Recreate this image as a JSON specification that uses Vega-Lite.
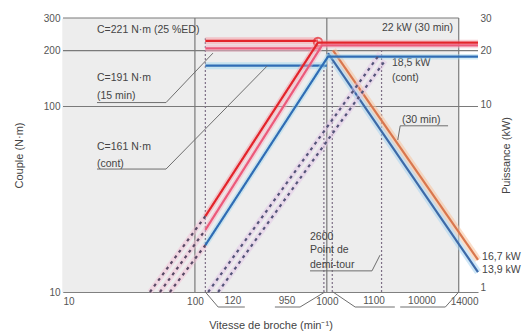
{
 "$schema": "https://vega.github.io/schema/vega-lite/v6.json",
 "width": 415, "height": 274,
 "autosize": "none",
 "padding": {"left": 63, "top": 18, "right": 54, "bottom": 41},
 "background": "#ffffff",
 "config": {
   "view": {"stroke": null},
   "font": "Liberation Sans",
   "axis": {"labelFont": "Liberation Sans", "titleFont": "Liberation Sans", "labelFontSize": 10, "titleFontSize": 11, "labelColor": "#555555", "titleColor": "#444444", "titleFontWeight": "normal", "ticks": false, "domainColor": "#808080", "domainWidth": 1.2, "grid": false}
 },
 "datasets": {
   "tq": [
     {"s": "t_red", "x": 120, "t": 226}, {"s": "t_red", "x": 857, "t": 226},
     {"s": "t_pink", "x": 120, "t": 206}, {"s": "t_pink", "x": 900, "t": 206},
     {"s": "t_blue", "x": 120, "t": 166}, {"s": "t_blue", "x": 1000, "t": 166},
     {"s": "t_org", "x": 1114, "t": 201}, {"s": "t_org", "x": 14000, "t": 14.9},
     {"s": "t_blu2", "x": 1020, "t": 194}, {"s": "t_blu2", "x": 14000, "t": 12.8}
   ],
   "pw": [
     {"s": "p_red", "x": 120, "kw": 2.45}, {"s": "p_red", "x": 857, "kw": 22}, {"s": "p_red", "x": 14000, "kw": 22},
     {"s": "p_pink", "x": 120, "kw": 2.06}, {"s": "p_pink", "x": 919, "kw": 21.2}, {"s": "p_pink", "x": 14000, "kw": 21.2},
     {"s": "p_blue", "x": 120, "kw": 1.7}, {"s": "p_blue", "x": 1020, "kw": 18.4}, {"s": "p_blue", "x": 14000, "kw": 18.4},
     {"s": "d_red", "x": 45.6, "kw": 0.94}, {"s": "d_red", "x": 120, "kw": 2.45},
     {"s": "d_mid", "x": 54.3, "kw": 0.94}, {"s": "d_mid", "x": 120, "kw": 2.06},
     {"s": "d_blue", "x": 64.6, "kw": 0.94}, {"s": "d_blue", "x": 120, "kw": 1.7},
     {"s": "d_r1", "x": 126, "kw": 0.94}, {"s": "d_r1", "x": 2530, "kw": 19.1},
     {"s": "d_r2", "x": 150, "kw": 0.94}, {"s": "d_r2", "x": 2763, "kw": 17.5}
   ],
   "ld": [
     {"s": "a", "x": 18.1, "t": 105}, {"s": "a", "x": 60.4, "t": 105}, {"s": "a", "x": 137, "t": 194},
     {"s": "b", "x": 18.1, "t": 46}, {"s": "b", "x": 60.4, "t": 46}, {"s": "b", "x": 352, "t": 165},
     {"s": "c", "x": 3450, "t": 66}, {"s": "c", "x": 3600, "t": 78.7}, {"s": "c", "x": 8300, "t": 78.7},
     {"s": "d", "x": 746, "t": 13.0}, {"s": "d", "x": 2200, "t": 13.0}, {"s": "d", "x": 2530, "t": 15.8},
     {"s": "e", "x": 120, "t": 10}, {"s": "e", "x": 150, "t": 8.3}, {"s": "e", "x": 239, "t": 8.3},
     {"s": "f", "x": 404, "t": 8.3}, {"s": "f", "x": 627, "t": 8.3}, {"s": "f", "x": 966, "t": 10},
     {"s": "g", "x": 1114, "t": 10}, {"s": "g", "x": 1640, "t": 8.3}, {"s": "g", "x": 3278, "t": 8.3},
     {"s": "h", "x": 3600, "t": 8.3}, {"s": "h", "x": 7920, "t": 8.3}, {"s": "h", "x": 10000, "t": 10}
   ],
   "notesL": [
     {"txt": "C=221 N·m (25 %ED)", "x": 18.1, "t": 258},
     {"txt": "C=191 N·m", "x": 18.1, "t": 142},
     {"txt": "(15 min)", "x": 18.1, "t": 114},
     {"txt": "C=161 N·m", "x": 18.1, "t": 60.5},
     {"txt": "(cont)", "x": 18.1, "t": 49},
     {"txt": "18,5 kW", "x": 3120, "t": 171},
     {"txt": "(cont)", "x": 3120, "t": 142},
     {"txt": "(30 min)", "x": 3716, "t": 84.5},
     {"txt": "2600", "x": 746, "t": 19.8},
     {"txt": "Point de", "x": 746, "t": 16.8},
     {"txt": "demi-tour", "x": 746, "t": 14.0},
     {"txt": "16,7 kW", "x": 15030, "t": 15.4},
     {"txt": "13,9 kW", "x": 15030, "t": 13.1}
   ],
   "notesR": [{"txt": "22 kW (30 min)", "x": 9060, "t": 265}],
   "notesC": [
     {"txt": "120", "x": 194, "t": 8.94}, {"txt": "950", "x": 499, "t": 8.94},
     {"txt": "1100", "x": 2280, "t": 8.94}, {"txt": "10000", "x": 5270, "t": 8.94}
   ]
 },
 "layer": [
  {
   "resolve": {"scale": {"color": "independent"}},
   "layer": [
     {
       "data": {"values": [{"x1": 10, "x2": 10000, "t1": 10, "t2": 300}]},
       "mark": {"type": "rect", "fill": "#ededed"},
       "encoding": {
         "x": {"field": "x1", "type": "quantitative", "scale": {"type": "log", "domain": [10, 14000]},
               "axis": {"values": [10, 100, 1000, 14000], "format": "d", "title": "Vitesse de broche (min⁻¹)", "labelPadding": 4, "titlePadding": 13}},
         "x2": {"field": "x2"},
         "y": {"field": "t1", "type": "quantitative", "scale": {"type": "log", "domain": [10, 300]},
               "axis": {"values": [10, 100, 200, 300], "format": "d", "title": "Couple (N·m)", "labelPadding": 3, "titlePadding": 19}},
         "y2": {"field": "t2"}
       }
     },
     {
       "data": {"values": [{"t": 100, "x1": 10, "x2": 14000}, {"t": 200, "x1": 10, "x2": 14000}, {"t": 300, "x1": 10, "x2": 10000}]},
       "mark": {"type": "rule", "color": "#7a7a7a", "strokeWidth": 1.2},
       "encoding": {
         "y": {"field": "t", "type": "quantitative", "scale": {"type": "log", "domain": [10, 300]}},
         "x": {"field": "x1", "type": "quantitative", "scale": {"type": "log", "domain": [10, 14000]}},
         "x2": {"field": "x2"}
       }
     },
     {
       "data": {"values": [{"x": 100}, {"x": 1000}, {"x": 10000}]},
       "mark": {"type": "rule", "color": "#7a7a7a", "strokeWidth": 1.2},
       "encoding": {
         "x": {"field": "x", "type": "quantitative", "scale": {"type": "log", "domain": [10, 14000]}}
       }
     },
     {
       "data": {"values": [{"x": 120, "t1": 10, "t2": 233}, {"x": 950, "t1": 10, "t2": 175}, {"x": 1100, "t1": 10, "t2": 175}, {"x": 2600, "t1": 10, "t2": 207}]},
       "mark": {"type": "rule", "color": "#7d6f86", "strokeWidth": 1.2, "strokeDash": [2, 2]},
       "encoding": {
         "x": {"field": "x", "type": "quantitative", "scale": {"type": "log", "domain": [10, 14000]}},
         "y": {"field": "t1", "type": "quantitative", "scale": {"type": "log", "domain": [10, 300]}},
         "y2": {"field": "t2"}
       }
     },
     {
       "data": {"name": "tq"},
       "mark": {"type": "line", "strokeWidth": 7, "opacity": 0.55},
       "encoding": {
         "x": {"field": "x", "type": "quantitative", "scale": {"type": "log", "domain": [10, 14000]}},
         "y": {"field": "t", "type": "quantitative", "scale": {"type": "log", "domain": [10, 300]}},
         "color": {"field": "s", "type": "nominal", "legend": null,
                   "scale": {"domain": ["t_red", "t_pink", "t_blue", "t_org", "t_blu2"], "range": ["#f6a3ab", "#f6b3c6", "#a6daf0", "#f7c39c", "#a8d4f0"]}}
       }
     },
     {
       "data": {"name": "tq"},
       "mark": {"type": "line", "strokeWidth": 2.2},
       "encoding": {
         "x": {"field": "x", "type": "quantitative", "scale": {"type": "log", "domain": [10, 14000]}},
         "y": {"field": "t", "type": "quantitative", "scale": {"type": "log", "domain": [10, 300]}},
         "color": {"field": "s", "type": "nominal", "legend": null,
                   "scale": {"domain": ["t_red", "t_pink", "t_blue", "t_org", "t_blu2"], "range": ["#e3242b", "#ec5a7a", "#2f6db5", "#d9774e", "#3d6aa8"]}}
       }
     },
     {
       "data": {"values": [{"x": 857, "t": 223}]},
       "mark": {"type": "point", "shape": "circle", "filled": false, "color": "#e3242b", "strokeWidth": 2, "size": 70},
       "encoding": {
         "x": {"field": "x", "type": "quantitative", "scale": {"type": "log", "domain": [10, 14000]}},
         "y": {"field": "t", "type": "quantitative", "scale": {"type": "log", "domain": [10, 300]}}
       }
     },
     {
       "data": {"name": "ld"},
       "mark": {"type": "line", "color": "#6e6e6e", "strokeWidth": 1},
       "encoding": {
         "x": {"field": "x", "type": "quantitative", "scale": {"type": "log", "domain": [10, 14000]}},
         "y": {"field": "t", "type": "quantitative", "scale": {"type": "log", "domain": [10, 300]}},
         "detail": {"field": "s", "type": "nominal"}
       }
     },
     {
       "data": {"name": "notesL"},
       "mark": {"type": "text", "align": "left", "baseline": "middle", "fontSize": 10.5, "color": "#444444", "font": "Liberation Sans"},
       "encoding": {
         "x": {"field": "x", "type": "quantitative", "scale": {"type": "log", "domain": [10, 14000]}},
         "y": {"field": "t", "type": "quantitative", "scale": {"type": "log", "domain": [10, 300]}},
         "text": {"field": "txt"}
       }
     },
     {
       "data": {"name": "notesR"},
       "mark": {"type": "text", "align": "right", "baseline": "middle", "fontSize": 10.5, "color": "#444444", "font": "Liberation Sans"},
       "encoding": {
         "x": {"field": "x", "type": "quantitative", "scale": {"type": "log", "domain": [10, 14000]}},
         "y": {"field": "t", "type": "quantitative", "scale": {"type": "log", "domain": [10, 300]}},
         "text": {"field": "txt"}
       }
     },
     {
       "data": {"name": "notesC"},
       "mark": {"type": "text", "align": "center", "baseline": "middle", "fontSize": 10, "color": "#555555", "font": "Liberation Sans"},
       "encoding": {
         "x": {"field": "x", "type": "quantitative", "scale": {"type": "log", "domain": [10, 14000]}},
         "y": {"field": "t", "type": "quantitative", "scale": {"type": "log", "domain": [10, 300]}},
         "text": {"field": "txt"}
       }
     }
   ]
  },
  {
   "resolve": {"scale": {"color": "independent", "strokeDash": "independent"}},
   "layer": [
     {
       "data": {"name": "pw"},
       "mark": {"type": "line", "strokeWidth": 5.5, "opacity": 0.45},
       "encoding": {
         "x": {"field": "x", "type": "quantitative", "scale": {"type": "log", "domain": [10, 14000]}},
         "y": {"field": "kw", "type": "quantitative", "scale": {"type": "log", "domain": [0.94, 30]},
               "axis": {"orient": "right", "values": [1, 10, 20, 30], "format": "d", "title": "Puissance (kW)", "titleAngle": 270, "labelPadding": 2, "titlePadding": 20, "domain": false}},
         "color": {"field": "s", "type": "nominal", "legend": null,
                   "scale": {"domain": ["p_red", "p_pink", "p_blue", "d_red", "d_mid", "d_blue", "d_r1", "d_r2"], "range": ["#f29aa3", "#f3aec2", "#9fd6ee", "#f3bcd5", "#f3bcd5", "#f3bcd5", "#e3c3e6", "#e3c3e6"]}}
       }
     },
     {
       "data": {"name": "pw"},
       "mark": {"type": "line", "strokeWidth": 2.2},
       "encoding": {
         "x": {"field": "x", "type": "quantitative", "scale": {"type": "log", "domain": [10, 14000]}},
         "y": {"field": "kw", "type": "quantitative", "scale": {"type": "log", "domain": [0.94, 30]}},
         "color": {"field": "s", "type": "nominal", "legend": null,
                   "scale": {"domain": ["p_red", "p_pink", "p_blue", "d_red", "d_mid", "d_blue", "d_r1", "d_r2"], "range": ["#e3242b", "#ec5a7a", "#2f6db5", "#5a4a66", "#5a4a66", "#5a4a66", "#55557a", "#55557a"]}},
         "strokeDash": {"field": "s", "type": "nominal", "legend": null,
                   "scale": {"domain": ["p_red", "p_pink", "p_blue", "d_red", "d_mid", "d_blue", "d_r1", "d_r2"], "range": [[1, 0], [1, 0], [1, 0], [3, 4], [3, 4], [3, 4], [3, 4], [3, 4]]}}
       }
     }
   ]
  }
 ],
 "resolve": {"scale": {"y": "independent"}, "axis": {"y": "independent"}}
}
